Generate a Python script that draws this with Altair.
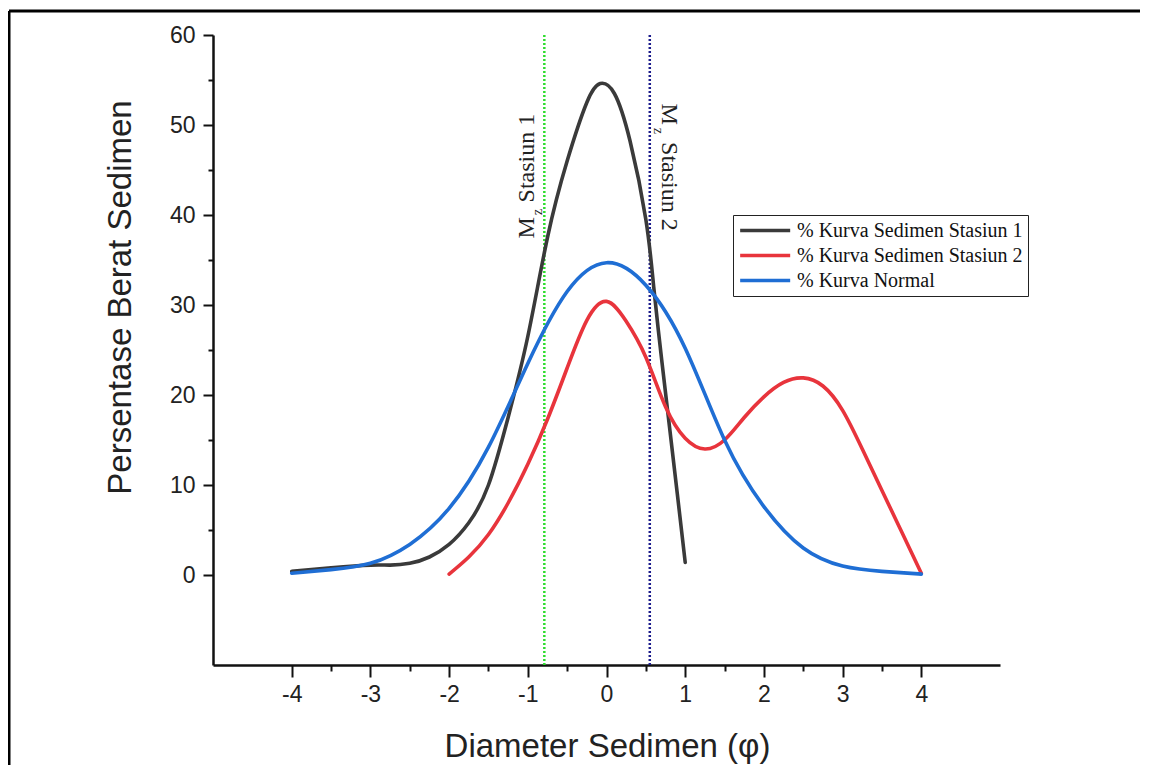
import altair as alt
import pandas as pd

# ---- data ----
s1_x = [-4, -3.5, -3, -2.75, -2.5, -2.25, -2, -1.75, -1.5, -1.25, -1, -0.75, -0.5, -0.25, -0.08, 0.1, 0.3, 0.5, 0.6, 0.7, 0.8, 0.9, 1.0]
s1_y = [0.4, 0.8, 1.1, 1.1, 1.3, 2.0, 3.4, 5.8, 10.0, 17.5, 26.5, 37.5, 46.0, 52.5, 54.6, 53.5, 48.2, 39.5, 32.0, 24.0, 16.5, 9.0, 1.4]

s2_x = [-2, -1.75, -1.5, -1.25, -1, -0.75, -0.5, -0.25, 0, 0.25, 0.5, 0.75, 1, 1.25, 1.5, 1.75, 2, 2.25, 2.5, 2.75, 3, 3.25, 3.5, 3.75, 4]
s2_y = [0.1, 2.0, 4.5, 8.0, 12.3, 17.3, 23.0, 28.3, 30.4, 28.2, 24.2, 18.7, 15.2, 14.0, 15.0, 17.5, 19.8, 21.4, 21.9, 21.0, 18.3, 14.0, 9.4, 4.8, 0.2]

nm_x = [-4, -3.5, -3, -2.5, -2, -1.5, -1, -0.5, 0, 0.5, 1, 1.5, 2, 2.5, 3, 3.5, 4]
nm_y = [0.2, 0.6, 1.3, 3.4, 7.4, 14.2, 23.5, 31.5, 34.7, 32.2, 25.2, 15.0, 7.6, 3.0, 1.0, 0.4, 0.1]

series_names = ["% Kurva Sedimen Stasiun 1", "% Kurva Sedimen Stasiun 2", "% Kurva Normal"]
series_colors = ["#3a3a3a", "#e8343c", "#1f6ed4"]

mz_x = [-0.79, 0.55]
mz_names = ["Mz Stasiun 1", "Mz Stasiun 2"]
mz_colors = ["#2edc2e", "#1c1c8c"]

# annotation text pieces (M, subscript z, rest)
ann1_text = ["M", "z", "Stasiun 1"]
ann1_x = [-1.006, -0.870, -1.006]
ann1_y = [37.4, 40.0, 41.4]
ann1_size = [24, 14, 24]

ann2_text = ["M", "z", "Stasiun 2"]
ann2_x = [0.80, 0.655, 0.80]
ann2_y = [52.4, 49.7, 48.1]
ann2_size = [24, 14, 24]

x_major = [-4, -3, -2, -1, 0, 1, 2, 3, 4]
x_minor = [-3.5, -2.5, -1.5, -0.5, 0.5, 1.5, 2.5, 3.5]
y_major = [0, 10, 20, 30, 40, 50, 60]
y_minor = [5, 15, 25, 35, 45, 55]

# ---- tables ----
rows = []
for name, xs_, ys_ in zip(series_names, [s1_x, s2_x, nm_x], [s1_y, s2_y, nm_y]):
    for xv, yv in zip(xs_, ys_):
        rows.append({"series": name, "x": xv, "y": yv})
df = pd.DataFrame(rows)
df_mz = pd.DataFrame({"x": mz_x, "name": mz_names, "color": mz_colors})
df_a1 = pd.DataFrame({"t": ann1_text, "x": ann1_x, "y": ann1_y, "s": ann1_size})
df_a2 = pd.DataFrame({"t": ann2_text, "x": ann2_x, "y": ann2_y, "s": ann2_size})

xs = alt.Scale(domain=[-5, 5], nice=False, zero=False)
ys = alt.Scale(domain=[-10, 60], nice=False, zero=False)

FONT = "Liberation Sans"
SERIF = "Liberation Serif"

lines = alt.Chart(df).mark_line(interpolate="natural", strokeWidth=3.6, strokeCap="round").encode(
    x=alt.X("x:Q", scale=xs, axis=alt.Axis(
        values=x_major, title="Diameter Sedimen (φ)", tickSize=12, labelPadding=6,
        labelFontSize=23, titleFontSize=33, titleFontWeight="normal",
        titleX=394, titleY=81, titleBaseline="middle", grid=False,
        labelExpr="datum.value + ''")),
    y=alt.Y("y:Q", scale=ys, axis=alt.Axis(
        values=y_major, title="Persentase Berat Sedimen", tickSize=10, labelPadding=8,
        labelFontSize=23, titleFontSize=33, titleFontWeight="normal",
        titleX=-93, titleY=262, titleBaseline="middle", titleAngle=-90, grid=False,
        labelExpr="datum.value + ''")),
    color=alt.Color("series:N", scale=alt.Scale(domain=series_names, range=series_colors),
                    sort=series_names,
                    legend=alt.Legend(title=None, orient="none", legendX=520, legendY=180,
                                      symbolType="M-1,0H5", symbolSize=278, symbolStrokeWidth=3.5,
                                      labelFont=SERIF, labelFontSize=20, labelColor="#111",
                                      labelOffset=38, labelLimit=0, rowPadding=4, padding=5,
                                      strokeColor="#222", fillColor="white")),
    order=alt.Order("x:Q"),
    detail="series:N",
)

minor = alt.Chart(df).mark_point(opacity=0).encode(
    x=alt.X("x:Q", scale=xs, axis=alt.Axis(values=x_minor, labels=False, domain=False, title=None,
                                           tickSize=6, orient="bottom", grid=False)),
    y=alt.Y("y:Q", scale=ys, axis=alt.Axis(values=y_minor, labels=False, domain=False, title=None,
                                           tickSize=5, orient="left", grid=False)),
)

mz = alt.Chart(df_mz).mark_rule(strokeWidth=2.5, strokeDash=[2, 2]).encode(
    x=alt.X("x:Q", scale=xs, axis=None),
    stroke=alt.Stroke("color:N", scale=None, legend=None),
)

a1 = alt.Chart(df_a1).mark_text(angle=270, align="left", baseline="middle", font=SERIF, color="#222").encode(
    x=alt.X("x:Q", scale=xs, axis=None),
    y=alt.Y("y:Q", scale=ys, axis=None),
    text="t:N",
    size=alt.Size("s:Q", scale=None, legend=None),
)
a2 = alt.Chart(df_a2).mark_text(angle=90, align="left", baseline="middle", font=SERIF, color="#222").encode(
    x=alt.X("x:Q", scale=xs, axis=None),
    y=alt.Y("y:Q", scale=ys, axis=None),
    text="t:N",
    size=alt.Size("s:Q", scale=None, legend=None),
)

frame_data = alt.Data(values=[{"k": 1}])
frame_left = alt.Chart(frame_data).mark_rule(color="black", strokeWidth=3).encode(
    x=alt.value(-204), y=alt.value(-24), y2=alt.value(760))
frame_top = alt.Chart(frame_data).mark_rule(color="black", strokeWidth=3).encode(
    x=alt.value(-204), x2=alt.value(1000), y=alt.value(-24))

chart = alt.layer(mz, lines, minor, a1, a2, frame_left, frame_top).resolve_axis(
    x="independent", y="independent"
).properties(
    width=787, height=630,
    autosize=alt.AutoSizeParams(type="none"),
    padding={"left": 205, "top": 27, "right": 140, "bottom": 100},
).configure_view(stroke=None).configure_axis(
    labelFont=FONT, titleFont=FONT, labelColor="#222", titleColor="#222",
    domainColor="#111", domainWidth=2.5, tickColor="#111", tickWidth=2,
)

chart.save("out.html", embed_options={"renderer": "svg", "actions": False})
